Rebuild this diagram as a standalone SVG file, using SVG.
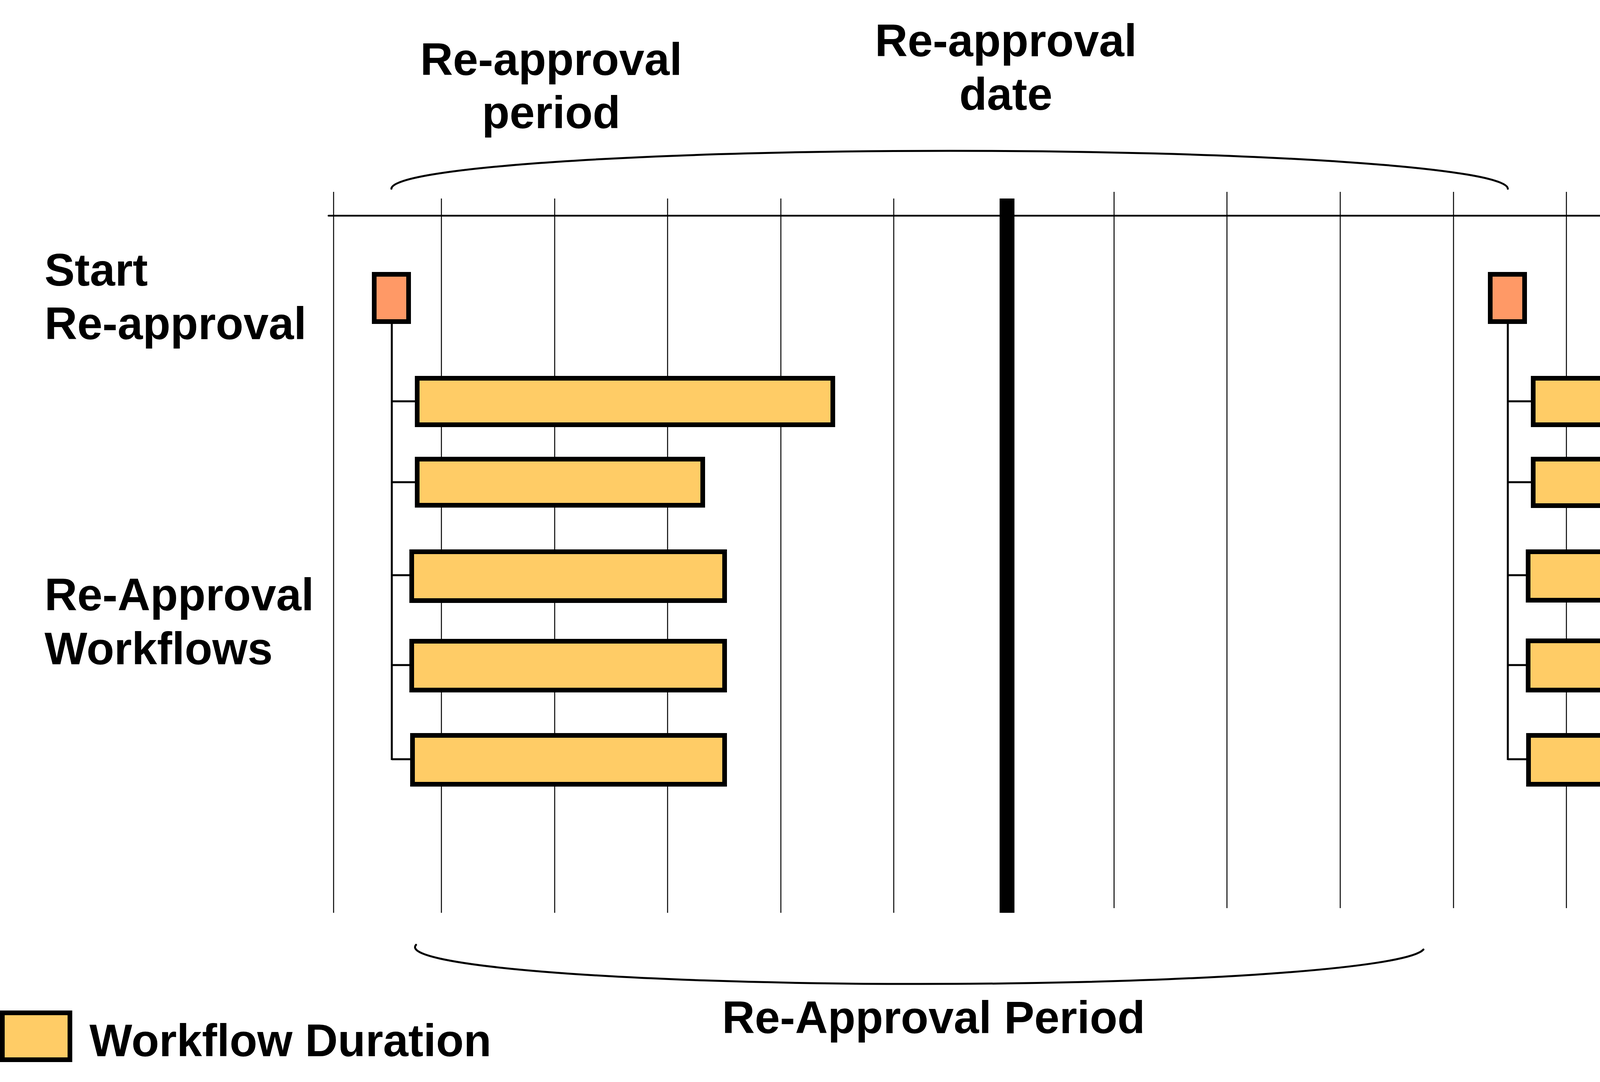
<svg xmlns="http://www.w3.org/2000/svg" width="5262" height="2769" viewBox="0 0 5262 2769">
<style>
.lbl{font-family:"Liberation Sans",Arial,sans-serif;font-weight:bold;font-size:116px;fill:#000}
.grid{stroke:#000;stroke-width:2.5;fill:none}
.bar{fill:#FFCC66;stroke:#000;stroke-width:12}
.start{fill:#FF9966;stroke:#000;stroke-width:12}
.conn{stroke:#000;stroke-width:5;fill:none}
.brace{stroke:#000;stroke-width:5;fill:none;stroke-linecap:round}
</style>
<rect width="5262" height="2769" fill="#fff"/>
<g id="timeline">
  <line x1="841" y1="552" x2="5252" y2="552" stroke="#000" stroke-width="4.5" stroke-linecap="round"/>
  <line class="grid" x1="854" y1="491" x2="854" y2="2336"/>
  <line class="grid" x1="1130" y1="508" x2="1130" y2="2336"/>
  <line class="grid" x1="1420" y1="508" x2="1420" y2="2336"/>
  <line class="grid" x1="1709" y1="508" x2="1709" y2="2336"/>
  <line class="grid" x1="1999" y1="508" x2="1999" y2="2336"/>
  <line class="grid" x1="2288" y1="508" x2="2288" y2="2336"/>
  <line class="grid" x1="2852" y1="491" x2="2852" y2="2324"/>
  <line class="grid" x1="3141" y1="491" x2="3141" y2="2324"/>
  <line class="grid" x1="3431" y1="491" x2="3431" y2="2324"/>
  <line class="grid" x1="3721" y1="491" x2="3721" y2="2324"/>
  <line class="grid" x1="4010" y1="491" x2="4010" y2="2324"/>
  <line class="grid" x1="4300" y1="491" x2="4300" y2="2324"/>
  <line class="grid" x1="4589" y1="491" x2="4589" y2="2324"/>
  <line class="grid" x1="4872" y1="491" x2="4872" y2="2324"/>
</g>
<g id="reapproval-date-line">
  <rect x="2559" y="508" width="38" height="1828" fill="#000"/>
</g>
<g id="brace-top"><path class="brace" d="M1002,483 A1429,97 0 0 1 3860,483"/></g>
<g id="brace-bottom"><path class="brace" d="M1065,2418 A1290,94 0 0 0 3644,2430"/></g>
<g id="connectors">
  <path class="conn" d="M1003,829 V1945 M1003,1027 H1062 M1003,1234 H1062 M1003,1472 H1048 M1003,1702 H1048 M1003,1943 H1050"/>
  <path class="conn" d="M3860,829 V1945 M3860,1027 H3919 M3860,1234 H3919 M3860,1472 H3906 M3860,1702 H3906 M3860,1943 H3907"/>
</g>
<g id="start-left"><rect class="start" x="958" y="702" width="88" height="121"/></g>
<g id="start-right"><rect class="start" x="3815" y="702" width="88" height="121"/></g>
<g id="bars-left">
  <rect class="bar" x="1068" y="968" width="1064" height="119"/>
  <rect class="bar" x="1068" y="1175" width="731" height="118"/>
  <rect class="bar" x="1054" y="1412" width="801" height="125"/>
  <rect class="bar" x="1054" y="1641" width="801" height="125"/>
  <rect class="bar" x="1056" y="1882" width="799" height="125"/>
</g>
<g id="bars-right">
  <rect class="bar" x="3925" y="968" width="1063" height="119"/>
  <rect class="bar" x="3925" y="1175" width="733" height="119"/>
  <rect class="bar" x="3912" y="1412" width="800" height="124"/>
  <rect class="bar" x="3912" y="1640" width="800" height="126"/>
  <rect class="bar" x="3913" y="1882" width="800" height="125"/>
</g>
<g id="label-period-top">
  <text class="lbl" x="1411" y="192" text-anchor="middle">Re-approval</text>
  <text class="lbl" x="1411" y="328" text-anchor="middle">period</text>
</g>
<g id="label-date">
  <text class="lbl" x="2575" y="144" text-anchor="middle">Re-approval</text>
  <text class="lbl" x="2575" y="281" text-anchor="middle">date</text>
</g>
<g id="label-start">
  <text class="lbl" x="114" y="731">Start</text>
  <text class="lbl" x="114" y="868">Re-approval</text>
</g>
<g id="label-workflows">
  <text class="lbl" x="114" y="1562">Re-Approval</text>
  <text class="lbl" x="114" y="1700">Workflows</text>
</g>
<g id="label-period-bottom">
  <text class="lbl" x="2390" y="2644" text-anchor="middle">Re-Approval Period</text>
</g>
<g id="legend">
  <rect class="bar" x="6" y="2592" width="173" height="120"/>
  <text class="lbl" x="229" y="2703">Workflow Duration</text>
</g>
</svg>
